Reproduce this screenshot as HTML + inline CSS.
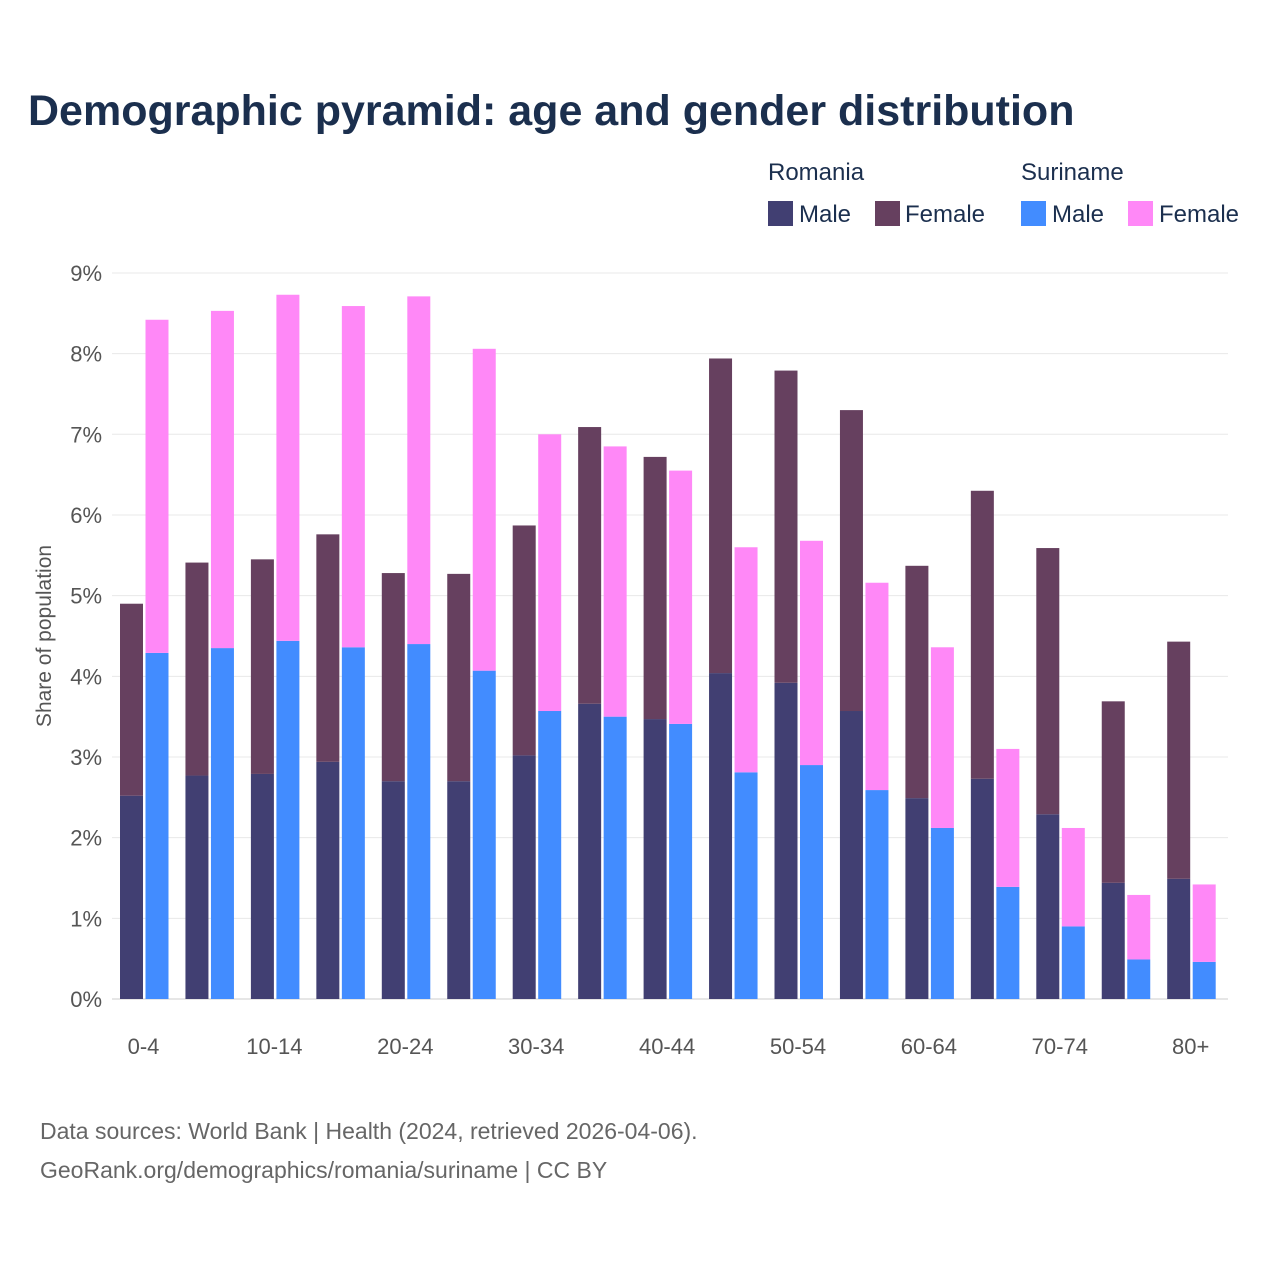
<!DOCTYPE html>
<html><head><meta charset="utf-8"><style>
body{margin:0;background:#fff;font-family:"Liberation Sans",sans-serif;}
</style></head><body>
<svg id="chart" width="1280" height="1280" xmlns="http://www.w3.org/2000/svg">
<rect width="1280" height="1280" fill="#fff"/>
<text x="28" y="125" font-size="43" font-weight="bold" fill="#1b2f4e">Demographic pyramid: age and gender distribution</text>
<g font-size="24" fill="#1b2f4e">
<text x="768" y="180">Romania</text>
<text x="1021" y="180">Suriname</text>
<rect x="768" y="201" width="25" height="25" fill="#413f72"/>
<text x="799" y="222">Male</text>
<rect x="875" y="201" width="25" height="25" fill="#66405f"/>
<text x="905" y="222">Female</text>
<rect x="1021" y="201" width="25" height="25" fill="#428cff"/>
<text x="1052" y="222">Male</text>
<rect x="1128" y="201" width="25" height="25" fill="#ff88f7"/>
<text x="1159" y="222">Female</text>
</g>
<g id="grid"></g>
<g id="bars"></g>
<g id="xlabels"></g>
<text transform="translate(51,636) rotate(-90)" text-anchor="middle" font-size="21" fill="#555">Share of population</text>
<text x="40" y="1139" font-size="23" fill="#666">Data sources: World Bank | Health (2024, retrieved 2026-04-06).</text>
<text x="40" y="1178" font-size="23" fill="#666">GeoRank.org/demographics/romania/suriname | CC BY</text>
</svg>
<script>
const categories=["0-4","5-9","10-14","15-19","20-24","25-29","30-34","35-39","40-44","45-49","50-54","55-59","60-64","65-69","70-74","75-79","80+"];
const romaniaMale=[2.52,2.77,2.79,2.94,2.70,2.70,3.02,3.66,3.47,4.04,3.92,3.57,2.49,2.73,2.29,1.44,1.49];
const romaniaFemale=[2.38,2.64,2.66,2.82,2.58,2.57,2.85,3.43,3.25,3.90,3.87,3.73,2.88,3.57,3.30,2.25,2.94];
const surinameMale=[4.29,4.35,4.44,4.36,4.40,4.07,3.57,3.50,3.41,2.81,2.90,2.59,2.12,1.39,0.90,0.49,0.46];
const surinameFemale=[4.13,4.18,4.29,4.23,4.31,3.99,3.43,3.35,3.14,2.79,2.78,2.57,2.24,1.71,1.22,0.80,0.96];
const yTicks=[0,1,2,3,4,5,6,7,8,9];
const NS="http://www.w3.org/2000/svg";
const y0=999,pxPer=80.67;
const yScale=v=>y0-v*pxPer;
const xCenter=i=>144.5+i*65.45;
function mk(tag,attrs,parent){const e=document.createElementNS(NS,tag);for(const k in attrs)e.setAttribute(k,attrs[k]);parent.appendChild(e);return e;}
const grid=document.getElementById('grid'),bars=document.getElementById('bars'),xl=document.getElementById('xlabels');
yTicks.forEach(t=>{
 const l=mk('line',{x1:112,x2:1228,y1:yScale(t),y2:yScale(t),stroke:t===0?'#ccc':'#e8e8e8','stroke-width':1},grid);
 
 
 const tx=mk('text',{x:102,y:yScale(t)+8,'text-anchor':'end','font-size':22,fill:'#555'},grid);
 tx.textContent=t+'%';
 
 
});
const w=23;
categories.forEach((c,i)=>{
 const cx=xCenter(i);
 const segs=[[cx-24.5,romaniaMale[i],0,'#413f72','romania-male'],[cx-24.5,romaniaFemale[i],romaniaMale[i],'#66405f','romania-female'],[cx+1,surinameMale[i],0,'#428cff','suriname-male'],[cx+1,surinameFemale[i],surinameMale[i],'#ff88f7','suriname-female']];
 segs.forEach(s=>{
  const r=mk('rect',{x:s[0],y:yScale(s[2]+s[1]),width:w,height:s[1]*pxPer,fill:s[3]},bars);
  
  
 });
 if(i%2===0){
  const t=mk('text',{x:cx-1,y:1054,'text-anchor':'middle','font-size':22,fill:'#555'},xl);
  t.textContent=c;
  
  
 }
});
</script>
</body></html>
